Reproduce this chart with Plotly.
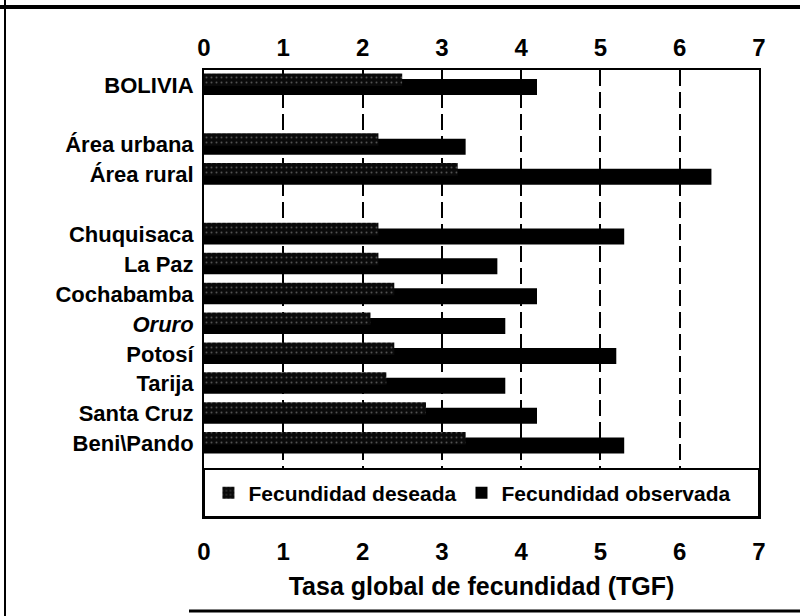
import plotly.graph_objects as go

# ---- data ----
categories = ["BOLIVIA", "Área urbana", "Área rural", "Chuquisaca", "La Paz",
              "Cochabamba", "Oruro", "Potosí", "Tarija", "Santa Cruz", "Beni\\Pando"]
deseada = [2.5, 2.2, 3.2, 2.2, 2.2, 2.4, 2.1, 2.4, 2.3, 2.8, 3.3]
observada = [4.2, 3.3, 6.4, 5.3, 3.7, 4.2, 3.8, 5.2, 3.8, 4.2, 5.3]
tick_values = [0, 1, 2, 3, 4, 5, 6, 7]
series_names = ["Fecundidad deseada", "Fecundidad observada"]
axis_title = "Tasa global de fecundidad (TGF)"

# category order on the axis, with blank spacer rows
category_order = ["BOLIVIA", " ", "Área urbana", "Área rural", "  ", "Chuquisaca", "La Paz",
                  "Cochabamba", "Oruro", "Potosí", "Tarija", "Santa Cruz", "Beni\\Pando"]
tick_text = ["<i>Oruro</i>" if c == "Oruro" else c for c in category_order]

FONT = "Liberation Sans"

fig = go.Figure()
fig.add_trace(go.Bar(
    y=categories, x=observada, orientation="h", name=series_names[1],
    marker=dict(color="black", line=dict(width=0)),
    offset=-0.2, width=0.535, legendrank=2,
))
fig.add_trace(go.Bar(
    y=categories, x=deseada, orientation="h", name=series_names[0],
    marker=dict(color="black", line=dict(width=0),
                pattern=dict(shape=".", fgcolor="#9a9a9a", bgcolor="#0a0a0a",
                             size=5, solidity=0.12)),
    offset=-0.385, width=0.42, legendrank=1,
))

grid_dash = "16px,6px"
legend_top = (517 - 469) / 447

fig.update_layout(
    width=800, height=616,
    margin=dict(l=204, r=41, t=70, b=99),
    paper_bgcolor="white", plot_bgcolor="white",
    barmode="overlay",
    showlegend=True,
    font=dict(family=FONT, color="black"),
    xaxis=dict(
        range=[0, 7], tickvals=tick_values, ticktext=[str(v) for v in tick_values],
        showgrid=True, gridcolor="black", gridwidth=2, griddash=grid_dash,
        zeroline=False, showline=True, linecolor="black", linewidth=2, mirror=True,
        ticks="", ticklabelstandoff=12,
        tickfont=dict(family=FONT, size=24, color="black", weight="bold"),
        title=dict(text=axis_title, standoff=14,
                   font=dict(family=FONT, size=25, color="black", weight="bold")),
    ),
    xaxis2=dict(
        range=[0, 7], overlaying="x", side="top", matches="x",
        tickvals=tick_values, ticktext=[str(v) for v in tick_values],
        showgrid=False, zeroline=False, showline=False, ticks="",
        ticklabelstandoff=8,
        tickfont=dict(family=FONT, size=24, color="black", weight="bold"),
    ),
    yaxis=dict(
        categoryorder="array", categoryarray=category_order,
        tickvals=category_order, ticktext=tick_text,
        range=[14.46, -0.502],
        showgrid=False, zeroline=False, showline=True, linecolor="black",
        linewidth=2, mirror=True, ticks="", ticklabelstandoff=4,
        tickfont=dict(family=FONT, size=22, color="black", weight="bold"),
    ),
    legend=dict(
        orientation="h", x=0.008, xanchor="left", y=legend_top / 2, yanchor="middle",
        bgcolor="rgba(0,0,0,0)", borderwidth=0,
        font=dict(family=FONT, size=21, color="black", weight="bold"),
        traceorder="normal",
    ),
    shapes=[
        # legend box inside the plot frame (covers gridlines)
        dict(type="rect", xref="paper", yref="paper", x0=0, x1=1, y0=0, y1=legend_top,
             fillcolor="white", line=dict(color="black", width=2), layer="above"),
        # outer page frame
        dict(type="line", xref="paper", yref="paper", x0=-0.37, x1=1.08,
             y0=(517 - 7) / 447, y1=(517 - 7) / 447, line=dict(color="black", width=4)),
        dict(type="line", xref="paper", yref="paper", x0=(5 - 204) / 555, x1=(5 - 204) / 555,
             y0=-0.3, y1=1.2, line=dict(color="black", width=2)),
        dict(type="line", xref="paper", yref="paper", x0=(189 - 204) / 555, x1=1.08,
             y0=(517 - 611) / 447, y1=(517 - 611) / 447, line=dict(color="black", width=3)),
    ],
)

# invisible trace so the top axis is drawn
fig.add_trace(go.Scatter(x=[None], y=[None], xaxis="x2", showlegend=False, hoverinfo="skip"))

fig.write_html("out.html", config={"displayModeBar": False},
               post_script="document.body.style.margin='0';document.body.style.overflow='hidden';")
